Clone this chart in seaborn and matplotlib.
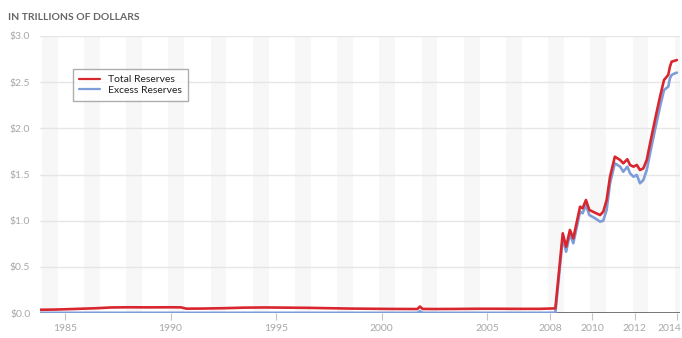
import matplotlib
matplotlib.use("Agg")
import matplotlib.pyplot as plt
from matplotlib.lines import Line2D
from matplotlib.transforms import ScaledTranslation
import pandas as pd
import seaborn as sns

# Reserve balances, trillions of dollars, by decimal year
pre_years = [1983.8, 1984.5, 1985.5, 1986.5, 1987.2, 1988.0, 1989.0, 1990.0, 1990.5,
             1990.75, 1991.5, 1992.5, 1993.5, 1994.5, 1995.5, 1996.5, 1997.5, 1998.5,
             1999.5, 2000.5, 2001.7, 2001.82, 2001.95, 2002.5, 2003.5, 2004.5, 2005.5,
             2006.5, 2007.5]
pre_total = [0.035, 0.037, 0.044, 0.052, 0.060, 0.062, 0.061, 0.062, 0.061,
             0.047, 0.048, 0.052, 0.058, 0.060, 0.058, 0.056, 0.052, 0.048,
             0.046, 0.044, 0.043, 0.070, 0.044, 0.043, 0.044, 0.046, 0.046,
             0.045, 0.045]
pre_excess = [0.002, 0.002, 0.002, 0.002, 0.002, 0.002, 0.002, 0.002, 0.002,
              0.002, 0.002, 0.002, 0.002, 0.002, 0.002, 0.002, 0.002, 0.002,
              0.002, 0.002, 0.002, 0.020, 0.002, 0.002, 0.002, 0.002, 0.002,
              0.002, 0.002]

post_years = [2008.24, 2008.59, 2008.75, 2008.93, 2009.09, 2009.41, 2009.53, 2009.69,
              2009.85, 2010.12, 2010.36, 2010.51, 2010.67, 2010.83, 2011.06, 2011.31,
              2011.46, 2011.65, 2011.78, 2011.94, 2012.10, 2012.25, 2012.41, 2012.57,
              2012.73, 2012.96, 2013.20, 2013.39, 2013.59, 2013.67, 2013.75, 2013.91,
              2014.00]
post_total = [0.050, 0.863, 0.718, 0.899, 0.809, 1.151, 1.134, 1.224,
              1.116, 1.086, 1.061, 1.097, 1.224, 1.476, 1.693, 1.657,
              1.621, 1.665, 1.603, 1.585, 1.603, 1.549, 1.567, 1.657,
              1.838, 2.090, 2.343, 2.524, 2.578, 2.668, 2.722, 2.733,
              2.740]
post_excess = [0.003, 0.809, 0.664, 0.856, 0.755, 1.097, 1.080, 1.170,
               1.061, 1.026, 0.989, 1.000, 1.116, 1.405, 1.621, 1.585,
               1.530, 1.585, 1.513, 1.476, 1.495, 1.405, 1.440, 1.549,
               1.730, 1.982, 2.234, 2.415, 2.451, 2.542, 2.578, 2.596,
               2.603]

x_ticks = [1985, 1990, 1995, 2000, 2005, 2008, 2010, 2012, 2014]
y_ticks = [0.0, 0.5, 1.0, 1.5, 2.0, 2.5, 3.0]
series_names = ["Total Reserves", "Excess Reserves"]

years = pre_years + post_years
df = pd.concat([
    pd.DataFrame({"year": years, "value": pre_total + post_total, "series": series_names[0]}),
    pd.DataFrame({"year": years, "value": pre_excess + post_excess, "series": series_names[1]}),
])

sns.set_theme(style="white")
plt.rcParams["font.family"] = ["Lato", "DejaVu Sans"]

fig = plt.figure(figsize=(6.82, 3.38), dpi=100)
ax = fig.add_axes([40 / 682, (338 - 313) / 338, 640 / 682, (313 - 36) / 338])

x_min, x_max = 1983.815, 2014.147
# faint alternating year bands
for yr in range(1984, 2015, 2):
    ax.axvspan(yr - 0.1, yr + 0.65, color="#f7f7f7", lw=0, zorder=0)

for v in y_ticks[1:]:
    ax.axhline(v, color="#e6e6e6", lw=1.0, zorder=1)

palette = {series_names[0]: "#d9262e", series_names[1]: "#7d9dd8"}
sns.lineplot(data=df, x="year", y="value", hue="series", palette=palette,
             hue_order=series_names[::-1], estimator=None, sort=False,
             lw=1.9, ax=ax, legend=False, zorder=3)

ax.axhline(0, color="#6a6a6a", lw=1.3, zorder=2)

ax.set_xlim(x_min, x_max)
ax.set_ylim(0, 3.0)
ax.set_xticks(x_ticks)
ax.set_xticklabels([str(t) for t in x_ticks])
ax.set_yticks(y_ticks)
ax.set_yticklabels([f"${v:.1f}" for v in y_ticks])
ax.tick_params(axis="x", length=5, width=0.8, color="#c4c4c4", labelcolor="#a8a8a8",
               labelsize=7.5, pad=3, direction="out", bottom=True)
ax.tick_params(axis="y", length=0, labelcolor="#a8a8a8", labelsize=7.5, pad=7)
ax.set_xlabel("")
ax.set_ylabel("")
for s in ax.spines.values():
    s.set_visible(False)

# keep the last year label inside the figure edge
last = ax.get_xticklabels()[-1]
last.set_transform(last.get_transform() + ScaledTranslation(-8 / 100, 0, fig.dpi_scale_trans))

handles = [Line2D([], [], color=palette[n], lw=1.6) for n in series_names]
leg = fig.legend(handles, series_names, loc="upper left",
                 bbox_to_anchor=(68 / 682, 1 - 64 / 338), frameon=True,
                 fontsize=7.5, handlelength=2.0, handletextpad=0.8,
                 labelspacing=0.15, borderpad=0.55, fancybox=False)
leg.get_frame().set_edgecolor("#9a9a9a")
leg.get_frame().set_linewidth(1.0)
for t in leg.get_texts():
    t.set_color("#222222")

fig.text(8 / 682, 1 - 18 / 338, "IN TRILLIONS OF DOLLARS", fontsize=7.5,
         fontweight="bold", color="#666666", va="center", ha="left")

fig.savefig("out.png", dpi=100)
